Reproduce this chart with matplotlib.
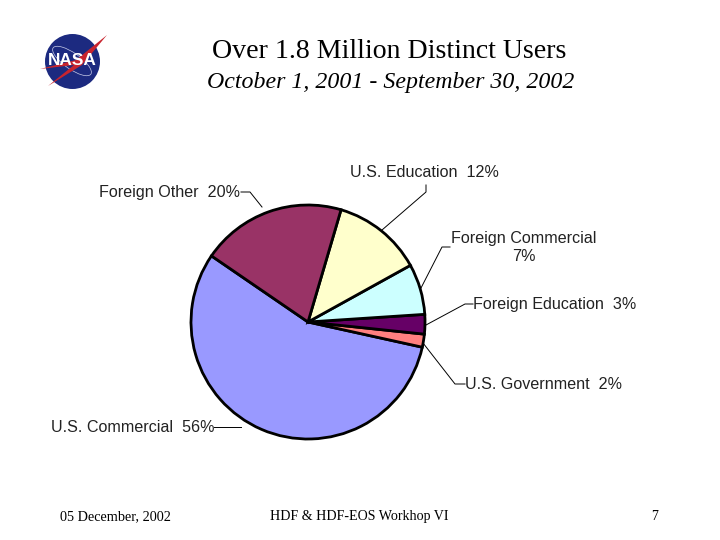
import numpy as np
import matplotlib
matplotlib.use('Agg')
import matplotlib.pyplot as plt
from matplotlib.patches import Circle, Ellipse, Polygon

# valores do grafico (fatias medidas; os rotulos trazem o valor arredondado)
categories = ['U.S. Commercial', 'U.S. Government', 'Foreign Education',
              'Foreign Commercial', 'U.S. Education', 'Foreign Other']
shares = [56.1, 1.8, 2.7, 7.0, 12.4, 20.0]
colors = ['#9999ff', '#ff8080', '#660066', '#ccffff', '#ffffcc', '#993366']

title = 'Over 1.8 Million Distinct Users'
subtitle = 'October 1, 2001 - September 30, 2002'
footer_left = '05 December, 2002'
footer_mid = 'HDF & HDF-EOS Workhop VI'
footer_right = '7'

H = 540
def Y(py):
    return H - py

fig = plt.figure(figsize=(7.2, 5.4), dpi=100)
ax = fig.add_axes([0, 0, 1, 1])

# pizza
ax.pie(shares, colors=colors, startangle=145.6, center=(308, Y(322)), radius=117,
       wedgeprops={'edgecolor': 'black', 'linewidth': 2.0})
ax.set_xlim(0, 720)
ax.set_ylim(0, 540)
ax.set_aspect('auto')
ax.axis('off')

# linhas de chamada (x, y em pixels da figura)
leaders = [
    [(241, 427), (214, 427)],
    [(423, 343), (455, 384), (465, 384)],
    [(426, 325), (465, 304), (473, 304)],
    [(421, 288), (442, 247), (450, 247)],
    [(382, 230), (426, 192), (426, 185)],
    [(262, 207), (250, 192), (241, 192)],
]
for pts in leaders:
    ax.plot([p[0] for p in pts], [Y(p[1]) for p in pts], color='black', lw=0.7)

# rotulos, todos alinhados pela linha de base
sans = 'Liberation Sans'
lab = dict(family=sans, fontsize=11.6, color='#222222', va='baseline')
ax.text(51, Y(432), 'U.S. Commercial  56%', ha='left', **lab)
ax.text(465, Y(389), 'U.S. Government  2%', ha='left', **lab)
ax.text(473, Y(309), 'Foreign Education  3%', ha='left', **lab)
ax.text(524, Y(243), 'Foreign Commercial', ha='center', **lab)
ax.text(524, Y(261), '7%', ha='center', **lab)
ax.text(350, Y(177), 'U.S. Education  12%', ha='left', **lab)
ax.text(99, Y(197), 'Foreign Other  20%', ha='left', **lab)

# titulos e rodape
serif = 'Liberation Serif'
ax.text(389.5, Y(58), title, family=serif, fontsize=20.1, ha='center', va='baseline', color='black')
ax.text(390.5, Y(88), subtitle, family=serif, style='italic', fontsize=17.2, ha='center', va='baseline', color='black')
ax.text(60, Y(520), footer_left, family=serif, fontsize=10.3, ha='left', va='baseline', color='black')
ax.text(359.5, Y(520), footer_mid, family=serif, fontsize=10.1, ha='center', va='baseline', color='black')
ax.text(655, Y(520), footer_right, family=serif, fontsize=10, ha='center', va='baseline', color='black')

# logo da NASA
ax.add_patch(Circle((72.5, Y(61.5)), 27.5, facecolor='#1c2a80', edgecolor='none', zorder=3))
ax.add_patch(Ellipse((72, Y(61)), 46, 16, angle=-35, fill=False, edgecolor='#c8cce8', lw=0.5, zorder=4))
ax.add_patch(Polygon([(107, Y(35)), (76, Y(60)), (40, Y(69)), (74, Y(65)), (48, Y(86)), (82, Y(65))],
                     closed=True, facecolor='#c8242e', edgecolor='none', zorder=4))
ax.text(72, Y(60.5), 'NASA', family=sans, weight='bold', fontsize=12.4, color='white',
        ha='center', va='center', zorder=5)

fig.savefig('out.png', dpi=100, facecolor='white')
